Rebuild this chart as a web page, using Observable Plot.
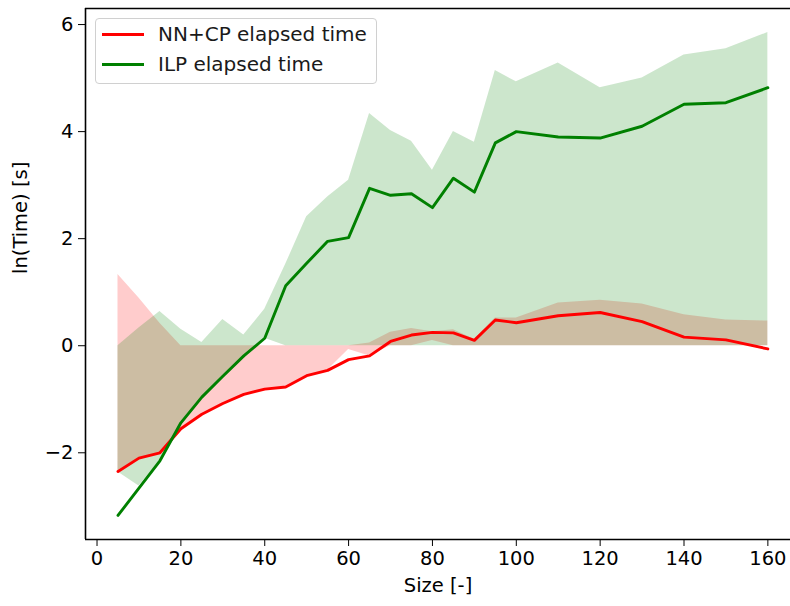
<!DOCTYPE html>
<html>
<head>
<meta charset="utf-8">
<script src="https://cdn.jsdelivr.net/npm/d3@7"></script>
<script src="https://cdn.jsdelivr.net/npm/@observablehq/plot@0.6"></script>
<style>
  body { margin: 0; background: #fff; }
  #wrap { position: relative; width: 790px; height: 606px; overflow: hidden; font-family: "DejaVu Sans", sans-serif; }
  #legend { position: absolute; left: 95px; top: 18px; width: 282px; height: 66px; box-sizing: border-box;
    border: 1px solid #d0d0d0; border-radius: 4px; background: rgba(255,255,255,0.85); }
  .item { position: absolute; left: 0; height: 24px; font-size: 20px; color: #1a1a1a; white-space: nowrap; }
  .item .sw { position: absolute; left: 6px; top: 11px; width: 42px; height: 3px; }
  .item .lbl { position: absolute; left: 62px; top: 0; line-height: 24px; }
</style>
</head>
<body>
<div id="wrap">
  <div id="chart"></div>
  <div id="legend"></div>
</div>
<script>
// ---- data ----
const sizes = [5,10,15,20,25,30,35,40,45,50,55,60,65,70,75,80,85,90,95,100,110,120,130,140,150,160];

const nncpMean = [-2.35,-2.10,-2.00,-1.55,-1.28,-1.08,-0.91,-0.81,-0.77,-0.56,-0.46,-0.26,-0.19,0.08,0.20,0.25,0.24,0.10,0.48,0.43,0.56,0.62,0.45,0.16,0.11,-0.06];
const nncpLow  = [-2.33,-2.10,-2.00,-1.55,-1.28,-1.08,-0.91,-0.81,-0.77,-0.56,-0.46,-0.07,-0.19,0.00,0.00,0.10,0.00,0.00,0.00,0.00,0.00,0.00,0.00,0.00,0.00,0.00];
const nncpHigh = [1.33,0.89,0.42,0.00,0.00,0.00,0.00,0.00,0.00,0.00,0.00,0.00,0.05,0.25,0.32,0.26,0.30,0.12,0.52,0.52,0.80,0.85,0.78,0.58,0.48,0.46];

const ilpMean = [-3.17,-2.66,-2.15,-1.44,-0.96,-0.57,-0.19,0.14,1.12,1.54,1.95,2.02,2.94,2.81,2.84,2.58,3.13,2.87,3.79,4.00,3.90,3.88,4.10,4.51,4.54,4.82];
const ilpLow  = [-2.36,-2.62,-2.15,-1.44,-0.96,-0.57,-0.19,0.14,0.00,0.00,0.00,0.00,0.00,0.00,0.00,0.00,0.00,0.00,0.00,0.00,0.00,0.00,0.00,0.00,0.00,0.00];
const ilpHigh = [0.00,0.33,0.64,0.31,0.06,0.49,0.20,0.68,1.52,2.41,2.78,3.09,4.34,4.02,3.82,3.28,4.00,3.80,5.14,4.93,5.28,4.82,5.00,5.43,5.55,5.85];

const xTicks = [0,20,40,60,80,100,120,140,160];
const yTicks = [-2,0,2,4,6];
const xDomain = [-2.75, 165.4];
const yDomain = [-3.62, 6.30];

const seriesNames = ["NN+CP elapsed time", "ILP elapsed time"];
const seriesColors = ["red", "green"];

// ---- tables ----
const nncp = sizes.map((s, i) => ({size: s, mean: nncpMean[i], lo: nncpLow[i], hi: nncpHigh[i]}));
const ilp  = sizes.map((s, i) => ({size: s, mean: ilpMean[i], lo: ilpLow[i], hi: ilpHigh[i]}));

const fmt = d => d < 0 ? "\u2212" + Math.abs(d) : String(d);

const chart = Plot.plot({
  width: 790,
  height: 606,
  marginLeft: 85,
  marginRight: 0,
  marginTop: 8,
  marginBottom: 67,
  style: {fontFamily: "DejaVu Sans, sans-serif", fontSize: "19.5px", color: "#000", background: "#fff"},
  x: {domain: xDomain},
  y: {domain: yDomain},
  marks: [
    Plot.areaY(nncp, {x: "size", y1: "lo", y2: "hi", fill: seriesColors[0], fillOpacity: 0.2, curve: "linear"}),
    Plot.areaY(ilp,  {x: "size", y1: "lo", y2: "hi", fill: seriesColors[1], fillOpacity: 0.2, curve: "linear"}),
    Plot.lineY(nncp, {x: "size", y: "mean", stroke: seriesColors[0], strokeWidth: 2.9}),
    Plot.lineY(ilp,  {x: "size", y: "mean", stroke: seriesColors[1], strokeWidth: 2.9}),
    Plot.ruleY([yDomain[1]], {stroke: "#000", strokeWidth: 1.6}),
    Plot.ruleY([yDomain[0]], {stroke: "#000", strokeWidth: 1.6}),
    Plot.ruleX([xDomain[0]], {stroke: "#000", strokeWidth: 1.6}),
    Plot.axisX({ticks: xTicks, tickSize: 7, tickPadding: 5, tickFormat: fmt, label: null, fontSize: 19.5}),
    Plot.axisY({ticks: yTicks, tickSize: 7, tickPadding: 5, tickFormat: fmt, label: null, fontSize: 19.5}),
    Plot.text(["Size [-]"], {frameAnchor: "bottom", dy: 52, fontSize: 19.5, fill: "#000"}),
    Plot.text(["ln(Time) [s]"], {frameAnchor: "left", dx: -65, rotate: -90, fontSize: 19.5, fill: "#000"})
  ]
});
document.getElementById("chart").appendChild(chart);

// ---- legend ----
const legend = document.getElementById("legend");
seriesNames.forEach((name, i) => {
  const it = document.createElement("div");
  it.className = "item";
  it.style.top = (3 + i * 30) + "px";
  it.innerHTML = `<span class="sw" style="background:${seriesColors[i]}"></span><span class="lbl">${name}</span>`;
  legend.appendChild(it);
});
</script>
</body>
</html>
